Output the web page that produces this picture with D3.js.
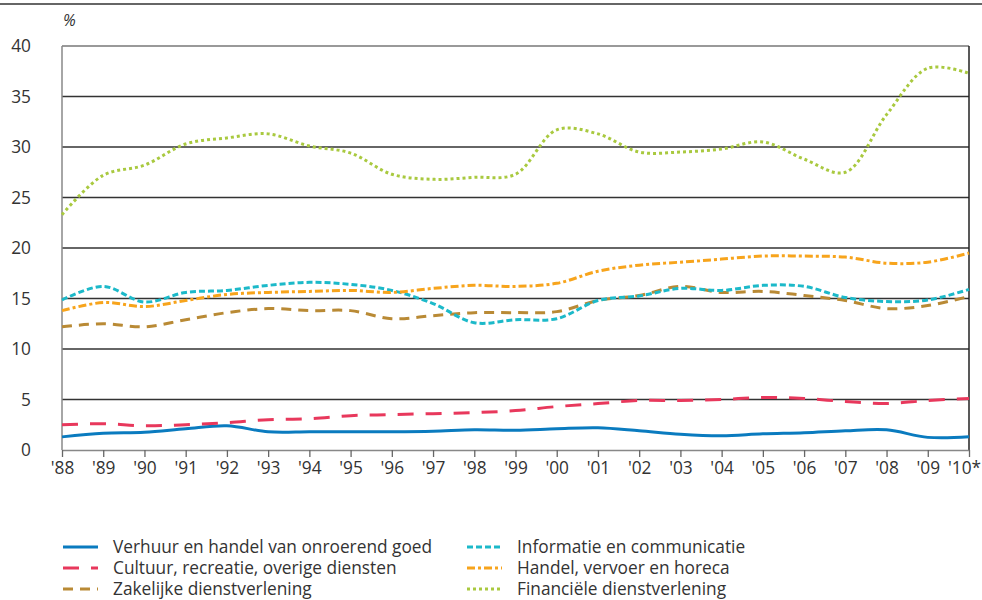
<!DOCTYPE html>
<html><head><meta charset="utf-8">
<script src="https://cdn.jsdelivr.net/npm/d3@7"></script>
<style>body{margin:0;background:#fff}svg{display:block;font-family:"Open Sans",sans-serif}</style>
</head><body><svg id="c" width="982" height="600"></svg>
<script>
const years = ["'88","'89","'90","'91","'92","'93","'94","'95","'96","'97","'98","'99","'00","'01","'02","'03","'04","'05","'06","'07","'08","'09","'10*"];
const verhuur   = [1.3,1.65,1.75,2.1,2.4,1.8,1.8,1.8,1.8,1.85,2.0,1.95,2.1,2.2,1.9,1.55,1.4,1.6,1.7,1.9,2.0,1.25,1.3];
const cultuur   = [2.5,2.6,2.4,2.5,2.7,3.0,3.1,3.4,3.5,3.6,3.7,3.9,4.3,4.6,4.9,4.9,5.0,5.2,5.1,4.8,4.6,4.9,5.1];
const zakelijk  = [12.2,12.5,12.2,12.9,13.6,14.0,13.8,13.8,13.0,13.3,13.6,13.6,13.7,14.8,15.3,16.2,15.6,15.7,15.3,14.8,14.0,14.3,15.2];
const informatie= [14.85,16.2,14.65,15.6,15.8,16.3,16.6,16.4,15.8,14.5,12.6,12.9,13.0,14.8,15.25,16.0,15.8,16.3,16.2,15.1,14.7,14.85,15.9];
const handel    = [13.8,14.6,14.2,14.8,15.4,15.6,15.7,15.8,15.6,16.0,16.3,16.2,16.5,17.7,18.3,18.6,18.9,19.2,19.2,19.1,18.5,18.6,19.5];
const financieel= [23.3,27.2,28.2,30.3,30.9,31.3,30.1,29.4,27.3,26.8,27.0,27.3,31.7,31.3,29.5,29.5,29.8,30.5,28.8,27.5,33.2,37.8,37.3];
const yTicks = [0,5,10,15,20,25,30,35,40];
const seriesNames = ["Verhuur en handel van onroerend goed","Cultuur, recreatie, overige diensten","Zakelijke dienstverlening","Informatie en communicatie","Handel, vervoer en horeca","Financiële dienstverlening"];

const styles = [
  {c:"#0a7bbf", d:null, w:3},
  {c:"#e8385c", d:"16,12", w:3},
  {c:"#b98a35", d:"10,7", w:3},
  {c:"#1cb9c9", d:"6,3", w:3},
  {c:"#f7a41c", d:"8,3,3,3", w:3},
  {c:"#a9c93f", d:"3,3", w:3}
];
const data = [verhuur,cultuur,zakelijk,informatie,handel,financieel];

const svg = d3.select("#c");
const L=62,R=969,T=46,B=450;
const FS=17.3;
const x = d3.scalePoint().domain(years).range([L,R]);
const y = d3.scaleLinear().domain([0,40]).range([B,T]);

svg.append("line").attr("x1",0).attr("x2",982).attr("y1",4).attr("y2",4).attr("stroke","#333").attr("stroke-width",1.5);
svg.append("text").attr("x",63).attr("y",26).attr("font-size",16).attr("font-style","italic").attr("fill","#333").text("%");

svg.append("g").selectAll("line").data(yTicks.filter(v=>v>0)).join("line")
  .attr("x1",L).attr("x2",R).attr("y1",d=>y(d)).attr("y2",d=>y(d))
  .attr("stroke",d=>d===40?"#777":"#333").attr("stroke-width",1.3);
svg.append("line").attr("x1",L).attr("x2",L).attr("y1",T).attr("y2",B).attr("stroke","#888").attr("stroke-width",1.5);
svg.append("line").attr("x1",R).attr("x2",R).attr("y1",T).attr("y2",B).attr("stroke","#222").attr("stroke-width",1.5);

svg.append("g").selectAll("text").data(yTicks).join("text")
  .attr("x",31).attr("y",d=>y(d)+6).attr("text-anchor","end").attr("font-size",FS).attr("fill","#333").text(d=>d);

const xa = svg.append("g").attr("transform",`translate(0,${B})`).call(d3.axisBottom(x).tickSize(7).tickSizeOuter(0).tickPadding(5));
xa.select(".domain").attr("stroke","#888").attr("stroke-width",1.5);
xa.selectAll(".tick line").attr("stroke","#666").attr("stroke-width",1.3);
xa.selectAll(".tick text").attr("font-size",FS).attr("fill","#333").attr("font-family","'Open Sans',sans-serif");
xa.selectAll(".tick text").filter(d=>d==="'10*").attr("dx",-5);

const line = d3.line().x((d,i)=>x(years[i])).y(d=>y(d)).curve(d3.curveCatmullRom.alpha(0.5));
data.forEach((s,k)=>{
  svg.append("path").attr("d",line(s)).attr("fill","none")
    .attr("stroke",styles[k].c).attr("stroke-width",styles[k].w)
    .attr("stroke-dasharray",styles[k].d).attr("stroke-linejoin","round");
});

const lg = svg.append("g");
seriesNames.forEach((n,i)=>{
  const col = i<3?0:1, row=i%3;
  const lx = col===0?63:467, ly = 547+row*21;
  lg.append("line").attr("x1",lx).attr("x2",lx+35).attr("y1",ly).attr("y2",ly)
    .attr("stroke",styles[i].c).attr("stroke-width",3).attr("stroke-dasharray",styles[i].d);
  lg.append("text").attr("x",lx+50).attr("y",ly+6).attr("font-size",FS).attr("fill","#333").text(n);
});
</script></body></html>
